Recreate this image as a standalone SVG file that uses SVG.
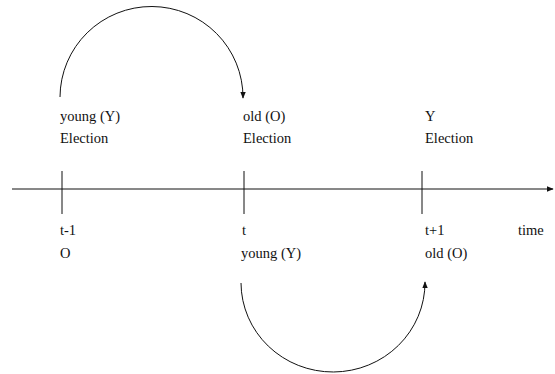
<svg xmlns="http://www.w3.org/2000/svg" width="555" height="374" viewBox="0 0 555 374">
<style>
text{font-family:"Liberation Serif","DejaVu Serif",serif;font-size:14.5px;fill:#111}
.ln{stroke:#111;stroke-width:1;fill:none}
</style>
<defs>
<marker id="ah" viewBox="0 0 10 10" refX="9" refY="5" markerWidth="7" markerHeight="7" orient="auto-start-reverse" markerUnits="userSpaceOnUse">
<path d="M0,1 L10,5 L0,9 Z" fill="#111"/>
</marker>
</defs>
<rect width="555" height="374" fill="#fff"/>
<g id="connectors">
<line class="ln" x1="12" y1="189" x2="553" y2="189" marker-end="url(#ah)"/>
<line class="ln" x1="62" y1="171" x2="62" y2="214"/>
<line class="ln" x1="244" y1="171" x2="244" y2="214"/>
<line class="ln" x1="422" y1="171" x2="422" y2="214"/>
<path class="ln" d="M60,97 A91.5,91 0 0 1 243,98" marker-end="url(#ah)"/>
<path class="ln" d="M241,283 A91.5,89 0 0 0 425,282" marker-end="url(#ah)"/>
</g>
<g id="n1"><text x="60" y="121">young (Y)</text><text x="60" y="143">Election</text></g>
<g id="n2"><text x="243" y="121">old (O)</text><text x="243" y="143">Election</text></g>
<g id="n3"><text x="425" y="121">Y</text><text x="425" y="143">Election</text></g>
<g id="n4"><text x="60" y="235">t-1</text><text x="60" y="258">O</text></g>
<g id="n5"><text x="242" y="235">t</text><text x="241" y="258">young (Y)</text></g>
<g id="n6"><text x="425" y="235">t+1</text><text x="425" y="258">old (O)</text></g>
<g id="n7"><text x="518" y="235">time</text></g>
</svg>
